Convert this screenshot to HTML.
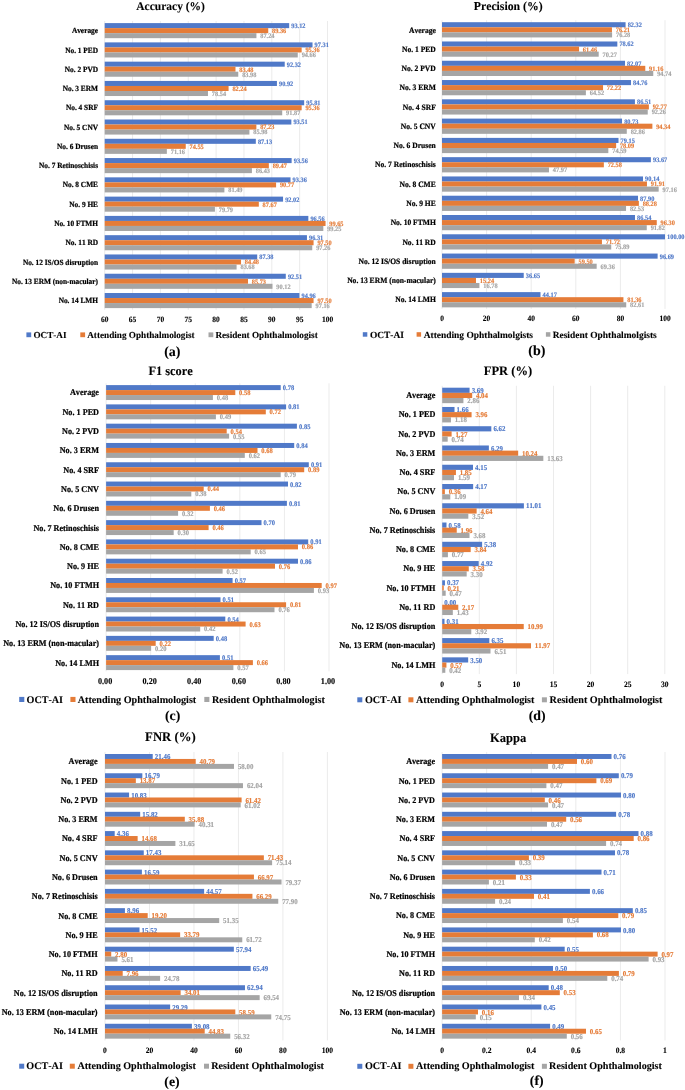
<!DOCTYPE html>
<html><head><meta charset="utf-8"><style>
html,body{margin:0;padding:0;background:#fff;}
body{width:685px;height:1090px;overflow:hidden;}
svg{display:block;filter:blur(0.3px);text-rendering:geometricPrecision;font-kerning:none;font-family:"Liberation Serif",serif;font-weight:bold;}
.gr{stroke:#E4E4E4;stroke-width:0.75;}
.c{text-anchor:end;fill:#000;stroke:#000;stroke-width:0.2px;}
.t{text-anchor:middle;fill:#000;stroke:#000;stroke-width:0.1px;}
.l{fill:#000;stroke:#000;stroke-width:0.1px;}
.v{font-weight:bold;stroke-width:0.15px;}
</style></head><body>
<svg width="685" height="1090" viewBox="0 0 685 1090">
<rect width="685" height="1090" fill="#fff"/>
<line x1="104.7" y1="21" x2="104.7" y2="309.8" class="gr"/>
<line x1="132.55" y1="21" x2="132.55" y2="309.8" class="gr"/>
<line x1="160.4" y1="21" x2="160.4" y2="309.8" class="gr"/>
<line x1="188.25" y1="21" x2="188.25" y2="309.8" class="gr"/>
<line x1="216.1" y1="21" x2="216.1" y2="309.8" class="gr"/>
<line x1="243.95" y1="21" x2="243.95" y2="309.8" class="gr"/>
<line x1="271.8" y1="21" x2="271.8" y2="309.8" class="gr"/>
<line x1="299.65" y1="21" x2="299.65" y2="309.8" class="gr"/>
<line x1="327.5" y1="21" x2="327.5" y2="309.8" class="gr"/>
<rect x="104.7" y="23.1" width="184.478" height="5.04" fill="#5079C8"/>
<text transform="translate(291.278,28.01) scale(1,1.08)" class="v" style="font-size:6.3px" fill="#5079C8" stroke="#5079C8">93.12</text>
<rect x="104.7" y="28.12" width="163.535" height="5.04" fill="#E57C38"/>
<text transform="translate(272.035,33.03) scale(1,1.08)" class="v" style="font-size:6.3px" fill="#E57C38" stroke="#E57C38">89.36</text>
<rect x="104.7" y="33.14" width="151.727" height="5.04" fill="#A5A5A5"/>
<text transform="translate(260.327,38.05) scale(1,1.08)" class="v" style="font-size:6.3px" fill="#A5A5A5" stroke="#A5A5A5">87.24</text>
<text transform="translate(98,33.25) scale(1,1.08)" class="c" style="font-size:7.35px" >Average</text>
<rect x="104.7" y="42.38" width="207.817" height="5.04" fill="#5079C8"/>
<text transform="translate(314.617,47.29) scale(1,1.08)" class="v" style="font-size:6.3px" fill="#5079C8" stroke="#5079C8">97.31</text>
<rect x="104.7" y="47.4" width="196.955" height="5.04" fill="#E57C38"/>
<text transform="translate(305.455,52.31) scale(1,1.08)" class="v" style="font-size:6.3px" fill="#E57C38" stroke="#E57C38">95.36</text>
<rect x="104.7" y="52.42" width="193.056" height="5.04" fill="#A5A5A5"/>
<text transform="translate(301.656,57.33) scale(1,1.08)" class="v" style="font-size:6.3px" fill="#A5A5A5" stroke="#A5A5A5">94.66</text>
<text transform="translate(98,52.53) scale(1,1.08)" class="c" style="font-size:7.35px" >No. 1 PED</text>
<rect x="104.7" y="61.66" width="180.022" height="5.04" fill="#5079C8"/>
<text transform="translate(286.822,66.57) scale(1,1.08)" class="v" style="font-size:6.3px" fill="#5079C8" stroke="#5079C8">92.32</text>
<rect x="104.7" y="66.68" width="130.784" height="5.04" fill="#E57C38"/>
<text transform="translate(239.284,71.59) scale(1,1.08)" class="v" style="font-size:6.3px" fill="#E57C38" stroke="#E57C38">83.48</text>
<rect x="104.7" y="71.7" width="133.569" height="5.04" fill="#A5A5A5"/>
<text transform="translate(242.169,76.61) scale(1,1.08)" class="v" style="font-size:6.3px" fill="#A5A5A5" stroke="#A5A5A5">83.98</text>
<text transform="translate(98,71.81) scale(1,1.08)" class="c" style="font-size:7.35px" >No. 2 PVD</text>
<rect x="104.7" y="80.94" width="172.224" height="5.04" fill="#5079C8"/>
<text transform="translate(279.024,85.85) scale(1,1.08)" class="v" style="font-size:6.3px" fill="#5079C8" stroke="#5079C8">90.92</text>
<rect x="104.7" y="85.96" width="123.877" height="5.04" fill="#E57C38"/>
<text transform="translate(232.377,90.87) scale(1,1.08)" class="v" style="font-size:6.3px" fill="#E57C38" stroke="#E57C38">82.24</text>
<rect x="104.7" y="90.98" width="103.268" height="5.04" fill="#A5A5A5"/>
<text transform="translate(211.868,95.89) scale(1,1.08)" class="v" style="font-size:6.3px" fill="#A5A5A5" stroke="#A5A5A5">78.54</text>
<text transform="translate(98,91.09) scale(1,1.08)" class="c" style="font-size:7.35px" >No. 3 ERM</text>
<rect x="104.7" y="100.22" width="199.462" height="5.04" fill="#5079C8"/>
<text transform="translate(306.262,105.13) scale(1,1.08)" class="v" style="font-size:6.3px" fill="#5079C8" stroke="#5079C8">95.81</text>
<rect x="104.7" y="105.24" width="196.955" height="5.04" fill="#E57C38"/>
<text transform="translate(305.455,110.15) scale(1,1.08)" class="v" style="font-size:6.3px" fill="#E57C38" stroke="#E57C38">95.36</text>
<rect x="104.7" y="110.26" width="177.516" height="5.04" fill="#A5A5A5"/>
<text transform="translate(286.116,115.17) scale(1,1.08)" class="v" style="font-size:6.3px" fill="#A5A5A5" stroke="#A5A5A5">91.87</text>
<text transform="translate(98,110.37) scale(1,1.08)" class="c" style="font-size:7.35px" >No. 4 SRF</text>
<rect x="104.7" y="119.5" width="186.651" height="5.04" fill="#5079C8"/>
<text transform="translate(293.451,124.41) scale(1,1.08)" class="v" style="font-size:6.3px" fill="#5079C8" stroke="#5079C8">93.51</text>
<rect x="104.7" y="124.52" width="151.671" height="5.04" fill="#E57C38"/>
<text transform="translate(260.171,129.43) scale(1,1.08)" class="v" style="font-size:6.3px" fill="#E57C38" stroke="#E57C38">87.23</text>
<rect x="104.7" y="129.54" width="144.709" height="5.04" fill="#A5A5A5"/>
<text transform="translate(253.309,134.45) scale(1,1.08)" class="v" style="font-size:6.3px" fill="#A5A5A5" stroke="#A5A5A5">85.98</text>
<text transform="translate(98,129.65) scale(1,1.08)" class="c" style="font-size:7.35px" >No. 5 CNV</text>
<rect x="104.7" y="138.78" width="151.114" height="5.04" fill="#5079C8"/>
<text transform="translate(257.914,143.69) scale(1,1.08)" class="v" style="font-size:6.3px" fill="#5079C8" stroke="#5079C8">87.13</text>
<rect x="104.7" y="143.8" width="81.043" height="5.04" fill="#E57C38"/>
<text transform="translate(189.543,148.71) scale(1,1.08)" class="v" style="font-size:6.3px" fill="#E57C38" stroke="#E57C38">74.55</text>
<rect x="104.7" y="148.82" width="62.161" height="5.04" fill="#A5A5A5"/>
<text transform="translate(170.761,153.73) scale(1,1.08)" class="v" style="font-size:6.3px" fill="#A5A5A5" stroke="#A5A5A5">71.16</text>
<text transform="translate(98,148.93) scale(1,1.08)" class="c" style="font-size:7.35px" >No. 6 Drusen</text>
<rect x="104.7" y="158.06" width="186.929" height="5.04" fill="#5079C8"/>
<text transform="translate(293.729,162.97) scale(1,1.08)" class="v" style="font-size:6.3px" fill="#5079C8" stroke="#5079C8">93.56</text>
<rect x="104.7" y="163.08" width="164.148" height="5.04" fill="#E57C38"/>
<text transform="translate(272.648,167.99) scale(1,1.08)" class="v" style="font-size:6.3px" fill="#E57C38" stroke="#E57C38">89.47</text>
<rect x="104.7" y="168.1" width="147.215" height="5.04" fill="#A5A5A5"/>
<text transform="translate(255.815,173.01) scale(1,1.08)" class="v" style="font-size:6.3px" fill="#A5A5A5" stroke="#A5A5A5">86.43</text>
<text transform="translate(98,168.21) scale(1,1.08)" class="c" style="font-size:7.35px" >No. 7 Retinoschisis</text>
<rect x="104.7" y="177.34" width="185.815" height="5.04" fill="#5079C8"/>
<text transform="translate(292.615,182.25) scale(1,1.08)" class="v" style="font-size:6.3px" fill="#5079C8" stroke="#5079C8">93.36</text>
<rect x="104.7" y="182.36" width="171.389" height="5.04" fill="#E57C38"/>
<text transform="translate(279.889,187.27) scale(1,1.08)" class="v" style="font-size:6.3px" fill="#E57C38" stroke="#E57C38">90.77</text>
<rect x="104.7" y="187.38" width="119.699" height="5.04" fill="#A5A5A5"/>
<text transform="translate(228.299,192.29) scale(1,1.08)" class="v" style="font-size:6.3px" fill="#A5A5A5" stroke="#A5A5A5">81.49</text>
<text transform="translate(98,187.49) scale(1,1.08)" class="c" style="font-size:7.35px" >No. 8 CME</text>
<rect x="104.7" y="196.62" width="178.351" height="5.04" fill="#5079C8"/>
<text transform="translate(285.151,201.53) scale(1,1.08)" class="v" style="font-size:6.3px" fill="#5079C8" stroke="#5079C8">92.02</text>
<rect x="104.7" y="201.64" width="154.122" height="5.04" fill="#E57C38"/>
<text transform="translate(262.622,206.55) scale(1,1.08)" class="v" style="font-size:6.3px" fill="#E57C38" stroke="#E57C38">87.67</text>
<rect x="104.7" y="206.66" width="110.23" height="5.04" fill="#A5A5A5"/>
<text transform="translate(218.83,211.57) scale(1,1.08)" class="v" style="font-size:6.3px" fill="#A5A5A5" stroke="#A5A5A5">79.79</text>
<text transform="translate(98,206.77) scale(1,1.08)" class="c" style="font-size:7.35px" >No. 9 HE</text>
<rect x="104.7" y="215.9" width="203.639" height="5.04" fill="#5079C8"/>
<text transform="translate(310.439,220.81) scale(1,1.08)" class="v" style="font-size:6.3px" fill="#5079C8" stroke="#5079C8">96.56</text>
<rect x="104.7" y="220.92" width="220.851" height="5.04" fill="#E57C38"/>
<text transform="translate(329.351,225.83) scale(1,1.08)" class="v" style="font-size:6.3px" fill="#E57C38" stroke="#E57C38">99.65</text>
<rect x="104.7" y="225.94" width="218.623" height="5.04" fill="#A5A5A5"/>
<text transform="translate(327.222,230.85) scale(1,1.08)" class="v" style="font-size:6.3px" fill="#A5A5A5" stroke="#A5A5A5">99.25</text>
<text transform="translate(98,226.05) scale(1,1.08)" class="c" style="font-size:7.35px" >No. 10 FTMH</text>
<rect x="104.7" y="235.18" width="202.247" height="5.04" fill="#5079C8"/>
<text transform="translate(309.047,240.09) scale(1,1.08)" class="v" style="font-size:6.3px" fill="#5079C8" stroke="#5079C8">96.31</text>
<rect x="104.7" y="240.2" width="208.875" height="5.04" fill="#E57C38"/>
<text transform="translate(317.375,245.11) scale(1,1.08)" class="v" style="font-size:6.3px" fill="#E57C38" stroke="#E57C38">97.50</text>
<rect x="104.7" y="245.22" width="207.538" height="5.04" fill="#A5A5A5"/>
<text transform="translate(316.138,250.13) scale(1,1.08)" class="v" style="font-size:6.3px" fill="#A5A5A5" stroke="#A5A5A5">97.26</text>
<text transform="translate(98,245.33) scale(1,1.08)" class="c" style="font-size:7.35px" >No. 11 RD</text>
<rect x="104.7" y="254.46" width="152.507" height="5.04" fill="#5079C8"/>
<text transform="translate(259.307,259.37) scale(1,1.08)" class="v" style="font-size:6.3px" fill="#5079C8" stroke="#5079C8">87.38</text>
<rect x="104.7" y="259.48" width="136.354" height="5.04" fill="#E57C38"/>
<text transform="translate(244.854,264.39) scale(1,1.08)" class="v" style="font-size:6.3px" fill="#E57C38" stroke="#E57C38">84.48</text>
<rect x="104.7" y="264.5" width="131.898" height="5.04" fill="#A5A5A5"/>
<text transform="translate(240.498,269.41) scale(1,1.08)" class="v" style="font-size:6.3px" fill="#A5A5A5" stroke="#A5A5A5">83.68</text>
<text transform="translate(98,264.61) scale(1,1.08)" class="c" style="font-size:7.35px" >No. 12 IS/OS disruption</text>
<rect x="104.7" y="273.74" width="181.081" height="5.04" fill="#5079C8"/>
<text transform="translate(287.881,278.65) scale(1,1.08)" class="v" style="font-size:6.3px" fill="#5079C8" stroke="#5079C8">92.51</text>
<rect x="104.7" y="278.76" width="143.316" height="5.04" fill="#E57C38"/>
<text transform="translate(251.816,283.67) scale(1,1.08)" class="v" style="font-size:6.3px" fill="#E57C38" stroke="#E57C38">85.73</text>
<rect x="104.7" y="283.78" width="167.768" height="5.04" fill="#A5A5A5"/>
<text transform="translate(276.368,288.69) scale(1,1.08)" class="v" style="font-size:6.3px" fill="#A5A5A5" stroke="#A5A5A5">90.12</text>
<text transform="translate(98,283.89) scale(1,1.08)" class="c" style="font-size:7.35px" >No. 13 ERM (non-macular)</text>
<rect x="104.7" y="293.02" width="194.727" height="5.04" fill="#5079C8"/>
<text transform="translate(301.527,297.93) scale(1,1.08)" class="v" style="font-size:6.3px" fill="#5079C8" stroke="#5079C8">94.96</text>
<rect x="104.7" y="298.04" width="208.875" height="5.04" fill="#E57C38"/>
<text transform="translate(317.375,302.95) scale(1,1.08)" class="v" style="font-size:6.3px" fill="#E57C38" stroke="#E57C38">97.50</text>
<rect x="104.7" y="303.06" width="206.981" height="5.04" fill="#A5A5A5"/>
<text transform="translate(315.581,307.97) scale(1,1.08)" class="v" style="font-size:6.3px" fill="#A5A5A5" stroke="#A5A5A5">97.16</text>
<text transform="translate(98,303.17) scale(1,1.08)" class="c" style="font-size:7.35px" >No. 14 LMH</text>
<text transform="translate(104.7,321.838) scale(1,1.08)" class="t" style="font-size:7.5px" >60</text>
<text transform="translate(132.55,321.838) scale(1,1.08)" class="t" style="font-size:7.5px" >65</text>
<text transform="translate(160.4,321.838) scale(1,1.08)" class="t" style="font-size:7.5px" >70</text>
<text transform="translate(188.25,321.838) scale(1,1.08)" class="t" style="font-size:7.5px" >75</text>
<text transform="translate(216.1,321.838) scale(1,1.08)" class="t" style="font-size:7.5px" >80</text>
<text transform="translate(243.95,321.838) scale(1,1.08)" class="t" style="font-size:7.5px" >85</text>
<text transform="translate(271.8,321.838) scale(1,1.08)" class="t" style="font-size:7.5px" >90</text>
<text transform="translate(299.65,321.838) scale(1,1.08)" class="t" style="font-size:7.5px" >95</text>
<text transform="translate(327.5,321.838) scale(1,1.08)" class="t" style="font-size:7.5px" >100</text>
<text transform="translate(170.6,10.4) scale(1,1.03)" class="t" style="font-size:11.5px" >Accuracy (%)</text>
<rect x="26.4" y="332.4" width="4.8" height="4.8" fill="#5079C8"/>
<text x="33.4" y="337.8" class="l" style="font-size:9.2px" >OCT-AI</text>
<rect x="80.3" y="332.4" width="4.8" height="4.8" fill="#E57C38"/>
<text x="87.2" y="337.8" class="l" style="font-size:9.2px" >Attending Ophthalmologist</text>
<rect x="208.5" y="332.4" width="4.8" height="4.8" fill="#A5A5A5"/>
<text x="215.4" y="337.8" class="l" style="font-size:9.2px" >Resident Ophthalmologist</text>
<text x="172.3" y="355.5" class="t" style="font-size:14px" >(a)</text>
<line x1="442" y1="20.2" x2="442" y2="308.9" class="gr"/>
<line x1="486.6" y1="20.2" x2="486.6" y2="308.9" class="gr"/>
<line x1="531.2" y1="20.2" x2="531.2" y2="308.9" class="gr"/>
<line x1="575.8" y1="20.2" x2="575.8" y2="308.9" class="gr"/>
<line x1="620.4" y1="20.2" x2="620.4" y2="308.9" class="gr"/>
<line x1="665" y1="20.2" x2="665" y2="308.9" class="gr"/>
<rect x="442" y="22.2" width="183.574" height="5.09" fill="#5079C8"/>
<text transform="translate(627.674,27.153) scale(1,1.08)" class="v" style="font-size:6.35px" fill="#5079C8" stroke="#5079C8">82.32</text>
<rect x="442" y="27.27" width="169.948" height="5.09" fill="#E57C38"/>
<text transform="translate(615.748,32.223) scale(1,1.08)" class="v" style="font-size:6.35px" fill="#E57C38" stroke="#E57C38">76.21</text>
<rect x="442" y="32.34" width="170.104" height="5.09" fill="#A5A5A5"/>
<text transform="translate(616.004,37.293) scale(1,1.08)" class="v" style="font-size:6.35px" fill="#A5A5A5" stroke="#A5A5A5">76.28</text>
<text transform="translate(435.8,32.503) scale(1,1.08)" class="c" style="font-size:7.57px" >Average</text>
<rect x="442" y="41.48" width="175.323" height="5.09" fill="#5079C8"/>
<text transform="translate(619.423,46.433) scale(1,1.08)" class="v" style="font-size:6.35px" fill="#5079C8" stroke="#5079C8">78.62</text>
<rect x="442" y="46.55" width="137.056" height="5.09" fill="#E57C38"/>
<text transform="translate(582.856,51.503) scale(1,1.08)" class="v" style="font-size:6.35px" fill="#E57C38" stroke="#E57C38">61.46</text>
<rect x="442" y="51.62" width="156.702" height="5.09" fill="#A5A5A5"/>
<text transform="translate(602.602,56.573) scale(1,1.08)" class="v" style="font-size:6.35px" fill="#A5A5A5" stroke="#A5A5A5">70.27</text>
<text transform="translate(435.8,51.783) scale(1,1.08)" class="c" style="font-size:7.57px" >No. 1 PED</text>
<rect x="442" y="60.76" width="183.016" height="5.09" fill="#5079C8"/>
<text transform="translate(627.116,65.713) scale(1,1.08)" class="v" style="font-size:6.35px" fill="#5079C8" stroke="#5079C8">82.07</text>
<rect x="442" y="65.83" width="203.287" height="5.09" fill="#E57C38"/>
<text transform="translate(649.087,70.783) scale(1,1.08)" class="v" style="font-size:6.35px" fill="#E57C38" stroke="#E57C38">91.16</text>
<rect x="442" y="70.9" width="211.27" height="5.09" fill="#A5A5A5"/>
<text transform="translate(657.17,75.853) scale(1,1.08)" class="v" style="font-size:6.35px" fill="#A5A5A5" stroke="#A5A5A5">94.74</text>
<text transform="translate(435.8,71.063) scale(1,1.08)" class="c" style="font-size:7.57px" >No. 2 PVD</text>
<rect x="442" y="80.04" width="189.015" height="5.09" fill="#5079C8"/>
<text transform="translate(633.115,84.993) scale(1,1.08)" class="v" style="font-size:6.35px" fill="#5079C8" stroke="#5079C8">84.76</text>
<rect x="442" y="85.11" width="161.051" height="5.09" fill="#E57C38"/>
<text transform="translate(606.851,90.063) scale(1,1.08)" class="v" style="font-size:6.35px" fill="#E57C38" stroke="#E57C38">72.22</text>
<rect x="442" y="90.18" width="143.88" height="5.09" fill="#A5A5A5"/>
<text transform="translate(589.78,95.133) scale(1,1.08)" class="v" style="font-size:6.35px" fill="#A5A5A5" stroke="#A5A5A5">64.52</text>
<text transform="translate(435.8,90.343) scale(1,1.08)" class="c" style="font-size:7.57px" >No. 3 ERM</text>
<rect x="442" y="99.32" width="192.917" height="5.09" fill="#5079C8"/>
<text transform="translate(637.017,104.273) scale(1,1.08)" class="v" style="font-size:6.35px" fill="#5079C8" stroke="#5079C8">86.51</text>
<rect x="442" y="104.39" width="206.877" height="5.09" fill="#E57C38"/>
<text transform="translate(652.677,109.343) scale(1,1.08)" class="v" style="font-size:6.35px" fill="#E57C38" stroke="#E57C38">92.77</text>
<rect x="442" y="109.46" width="205.74" height="5.09" fill="#A5A5A5"/>
<text transform="translate(651.64,114.413) scale(1,1.08)" class="v" style="font-size:6.35px" fill="#A5A5A5" stroke="#A5A5A5">92.26</text>
<text transform="translate(435.8,109.623) scale(1,1.08)" class="c" style="font-size:7.57px" >No. 4 SRF</text>
<rect x="442" y="118.6" width="180.028" height="5.09" fill="#5079C8"/>
<text transform="translate(624.128,123.553) scale(1,1.08)" class="v" style="font-size:6.35px" fill="#5079C8" stroke="#5079C8">80.73</text>
<rect x="442" y="123.67" width="210.378" height="5.09" fill="#E57C38"/>
<text transform="translate(656.178,128.623) scale(1,1.08)" class="v" style="font-size:6.35px" fill="#E57C38" stroke="#E57C38">94.34</text>
<rect x="442" y="128.74" width="184.778" height="5.09" fill="#A5A5A5"/>
<text transform="translate(630.678,133.693) scale(1,1.08)" class="v" style="font-size:6.35px" fill="#A5A5A5" stroke="#A5A5A5">82.86</text>
<text transform="translate(435.8,128.903) scale(1,1.08)" class="c" style="font-size:7.57px" >No. 5 CNV</text>
<rect x="442" y="137.88" width="176.505" height="5.09" fill="#5079C8"/>
<text transform="translate(620.605,142.833) scale(1,1.08)" class="v" style="font-size:6.35px" fill="#5079C8" stroke="#5079C8">79.15</text>
<rect x="442" y="142.95" width="174.141" height="5.09" fill="#E57C38"/>
<text transform="translate(619.941,147.903) scale(1,1.08)" class="v" style="font-size:6.35px" fill="#E57C38" stroke="#E57C38">78.09</text>
<rect x="442" y="148.02" width="166.336" height="5.09" fill="#A5A5A5"/>
<text transform="translate(612.236,152.973) scale(1,1.08)" class="v" style="font-size:6.35px" fill="#A5A5A5" stroke="#A5A5A5">74.59</text>
<text transform="translate(435.8,148.183) scale(1,1.08)" class="c" style="font-size:7.57px" >No. 6 Drusen</text>
<rect x="442" y="157.16" width="208.884" height="5.09" fill="#5079C8"/>
<text transform="translate(652.984,162.113) scale(1,1.08)" class="v" style="font-size:6.35px" fill="#5079C8" stroke="#5079C8">93.67</text>
<rect x="442" y="162.23" width="161.853" height="5.09" fill="#E57C38"/>
<text transform="translate(607.653,167.183) scale(1,1.08)" class="v" style="font-size:6.35px" fill="#E57C38" stroke="#E57C38">72.58</text>
<rect x="442" y="167.3" width="106.973" height="5.09" fill="#A5A5A5"/>
<text transform="translate(552.873,172.253) scale(1,1.08)" class="v" style="font-size:6.35px" fill="#A5A5A5" stroke="#A5A5A5">47.97</text>
<text transform="translate(435.8,167.463) scale(1,1.08)" class="c" style="font-size:7.57px" >No. 7 Retinoschisis</text>
<rect x="442" y="176.44" width="201.012" height="5.09" fill="#5079C8"/>
<text transform="translate(645.112,181.393) scale(1,1.08)" class="v" style="font-size:6.35px" fill="#5079C8" stroke="#5079C8">90.14</text>
<rect x="442" y="181.51" width="204.959" height="5.09" fill="#E57C38"/>
<text transform="translate(650.759,186.463) scale(1,1.08)" class="v" style="font-size:6.35px" fill="#E57C38" stroke="#E57C38">91.91</text>
<rect x="442" y="186.58" width="216.667" height="5.09" fill="#A5A5A5"/>
<text transform="translate(662.567,191.533) scale(1,1.08)" class="v" style="font-size:6.35px" fill="#A5A5A5" stroke="#A5A5A5">97.16</text>
<text transform="translate(435.8,186.743) scale(1,1.08)" class="c" style="font-size:7.57px" >No. 8 CME</text>
<rect x="442" y="195.72" width="196.017" height="5.09" fill="#5079C8"/>
<text transform="translate(640.117,200.673) scale(1,1.08)" class="v" style="font-size:6.35px" fill="#5079C8" stroke="#5079C8">87.90</text>
<rect x="442" y="200.79" width="196.864" height="5.09" fill="#E57C38"/>
<text transform="translate(642.664,205.743) scale(1,1.08)" class="v" style="font-size:6.35px" fill="#E57C38" stroke="#E57C38">88.28</text>
<rect x="442" y="205.86" width="184.042" height="5.09" fill="#A5A5A5"/>
<text transform="translate(629.942,210.813) scale(1,1.08)" class="v" style="font-size:6.35px" fill="#A5A5A5" stroke="#A5A5A5">82.53</text>
<text transform="translate(435.8,206.023) scale(1,1.08)" class="c" style="font-size:7.57px" >No. 9 HE</text>
<rect x="442" y="215" width="192.984" height="5.09" fill="#5079C8"/>
<text transform="translate(637.084,219.953) scale(1,1.08)" class="v" style="font-size:6.35px" fill="#5079C8" stroke="#5079C8">86.54</text>
<rect x="442" y="220.07" width="214.749" height="5.09" fill="#E57C38"/>
<text transform="translate(660.549,225.023) scale(1,1.08)" class="v" style="font-size:6.35px" fill="#E57C38" stroke="#E57C38">96.30</text>
<rect x="442" y="225.14" width="204.759" height="5.09" fill="#A5A5A5"/>
<text transform="translate(650.659,230.093) scale(1,1.08)" class="v" style="font-size:6.35px" fill="#A5A5A5" stroke="#A5A5A5">91.82</text>
<text transform="translate(435.8,225.303) scale(1,1.08)" class="c" style="font-size:7.57px" >No. 10 FTMH</text>
<rect x="442" y="234.28" width="223" height="5.09" fill="#5079C8"/>
<text transform="translate(667.1,239.233) scale(1,1.08)" class="v" style="font-size:6.35px" fill="#5079C8" stroke="#5079C8">100.00</text>
<rect x="442" y="239.35" width="159.936" height="5.09" fill="#E57C38"/>
<text transform="translate(605.736,244.303) scale(1,1.08)" class="v" style="font-size:6.35px" fill="#E57C38" stroke="#E57C38">71.72</text>
<rect x="442" y="244.42" width="169.235" height="5.09" fill="#A5A5A5"/>
<text transform="translate(615.135,249.373) scale(1,1.08)" class="v" style="font-size:6.35px" fill="#A5A5A5" stroke="#A5A5A5">75.89</text>
<text transform="translate(435.8,244.583) scale(1,1.08)" class="c" style="font-size:7.57px" >No. 11 RD</text>
<rect x="442" y="253.56" width="215.619" height="5.09" fill="#5079C8"/>
<text transform="translate(659.719,258.513) scale(1,1.08)" class="v" style="font-size:6.35px" fill="#5079C8" stroke="#5079C8">96.69</text>
<rect x="442" y="258.63" width="132.685" height="5.09" fill="#E57C38"/>
<text transform="translate(578.485,263.583) scale(1,1.08)" class="v" style="font-size:6.35px" fill="#E57C38" stroke="#E57C38">59.50</text>
<rect x="442" y="263.7" width="154.673" height="5.09" fill="#A5A5A5"/>
<text transform="translate(600.573,268.653) scale(1,1.08)" class="v" style="font-size:6.35px" fill="#A5A5A5" stroke="#A5A5A5">69.36</text>
<text transform="translate(435.8,263.863) scale(1,1.08)" class="c" style="font-size:7.57px" >No. 12 IS/OS disruption</text>
<rect x="442" y="272.84" width="81.73" height="5.09" fill="#5079C8"/>
<text transform="translate(525.83,277.793) scale(1,1.08)" class="v" style="font-size:6.35px" fill="#5079C8" stroke="#5079C8">36.65</text>
<rect x="442" y="277.91" width="33.985" height="5.09" fill="#E57C38"/>
<text transform="translate(479.785,282.863) scale(1,1.08)" class="v" style="font-size:6.35px" fill="#E57C38" stroke="#E57C38">15.24</text>
<rect x="442" y="282.98" width="37.419" height="5.09" fill="#A5A5A5"/>
<text transform="translate(483.319,287.933) scale(1,1.08)" class="v" style="font-size:6.35px" fill="#A5A5A5" stroke="#A5A5A5">16.78</text>
<text transform="translate(435.8,283.143) scale(1,1.08)" class="c" style="font-size:7.57px" >No. 13 ERM (non-macular)</text>
<rect x="442" y="292.12" width="98.499" height="5.09" fill="#5079C8"/>
<text transform="translate(542.599,297.073) scale(1,1.08)" class="v" style="font-size:6.35px" fill="#5079C8" stroke="#5079C8">44.17</text>
<rect x="442" y="297.19" width="181.433" height="5.09" fill="#E57C38"/>
<text transform="translate(627.233,302.143) scale(1,1.08)" class="v" style="font-size:6.35px" fill="#E57C38" stroke="#E57C38">81.36</text>
<rect x="442" y="302.26" width="184.22" height="5.09" fill="#A5A5A5"/>
<text transform="translate(630.12,307.213) scale(1,1.08)" class="v" style="font-size:6.35px" fill="#A5A5A5" stroke="#A5A5A5">82.61</text>
<text transform="translate(435.8,302.423) scale(1,1.08)" class="c" style="font-size:7.57px" >No. 14 LMH</text>
<text transform="translate(442,321.038) scale(1,1.08)" class="t" style="font-size:7.5px" >0</text>
<text transform="translate(486.6,321.038) scale(1,1.08)" class="t" style="font-size:7.5px" >20</text>
<text transform="translate(531.2,321.038) scale(1,1.08)" class="t" style="font-size:7.5px" >40</text>
<text transform="translate(575.8,321.038) scale(1,1.08)" class="t" style="font-size:7.5px" >60</text>
<text transform="translate(620.4,321.038) scale(1,1.08)" class="t" style="font-size:7.5px" >80</text>
<text transform="translate(665,321.038) scale(1,1.08)" class="t" style="font-size:7.5px" >100</text>
<text transform="translate(508.2,9.7) scale(1,1.03)" class="t" style="font-size:11.75px" >Precision (%)</text>
<rect x="362.8" y="332.2" width="4.5" height="4.5" fill="#5079C8"/>
<text x="369.9" y="337.8" class="l" style="font-size:9.45px" >OCT-AI</text>
<rect x="416.6" y="332.2" width="4.5" height="4.5" fill="#E57C38"/>
<text x="423.7" y="337.8" class="l" style="font-size:9.45px" >Attending Ophthalmolgists</text>
<rect x="545.9" y="332.2" width="4.5" height="4.5" fill="#A5A5A5"/>
<text x="552.7" y="337.8" class="l" style="font-size:9.45px" >Resident Ophthalmolgists</text>
<text x="536.9" y="354.8" class="t" style="font-size:14px" >(b)</text>
<line x1="106.1" y1="383.3" x2="106.1" y2="671.3" class="gr"/>
<line x1="150.68" y1="383.3" x2="150.68" y2="671.3" class="gr"/>
<line x1="195.26" y1="383.3" x2="195.26" y2="671.3" class="gr"/>
<line x1="239.84" y1="383.3" x2="239.84" y2="671.3" class="gr"/>
<line x1="284.42" y1="383.3" x2="284.42" y2="671.3" class="gr"/>
<line x1="329" y1="383.3" x2="329" y2="671.3" class="gr"/>
<rect x="106.1" y="385.1" width="174.6" height="4.99" fill="#5079C8"/>
<text transform="translate(282.8,390.058) scale(1,1.08)" class="v" style="font-size:6.5px" fill="#5079C8" stroke="#5079C8">0.78</text>
<rect x="106.1" y="390.07" width="129.2" height="4.99" fill="#E57C38"/>
<text transform="translate(239.1,395.028) scale(1,1.08)" class="v" style="font-size:6.5px" fill="#E57C38" stroke="#E57C38">0.58</text>
<rect x="106.1" y="395.04" width="106.8" height="4.99" fill="#A5A5A5"/>
<text transform="translate(216.8,399.998) scale(1,1.08)" class="v" style="font-size:6.5px" fill="#A5A5A5" stroke="#A5A5A5">0.48</text>
<text transform="translate(99,395.47) scale(1,1.08)" class="c" style="font-size:8.18px" >Average</text>
<rect x="106.1" y="404.39" width="180" height="4.99" fill="#5079C8"/>
<text transform="translate(288.2,409.348) scale(1,1.08)" class="v" style="font-size:6.5px" fill="#5079C8" stroke="#5079C8">0.81</text>
<rect x="106.1" y="409.36" width="159.7" height="4.99" fill="#E57C38"/>
<text transform="translate(269.6,414.318) scale(1,1.08)" class="v" style="font-size:6.5px" fill="#E57C38" stroke="#E57C38">0.72</text>
<rect x="106.1" y="414.33" width="109.8" height="4.99" fill="#A5A5A5"/>
<text transform="translate(219.8,419.288) scale(1,1.08)" class="v" style="font-size:6.5px" fill="#A5A5A5" stroke="#A5A5A5">0.49</text>
<text transform="translate(99,414.76) scale(1,1.08)" class="c" style="font-size:8.18px" >No. 1 PED</text>
<rect x="106.1" y="423.68" width="190.8" height="4.99" fill="#5079C8"/>
<text transform="translate(299,428.638) scale(1,1.08)" class="v" style="font-size:6.5px" fill="#5079C8" stroke="#5079C8">0.85</text>
<rect x="106.1" y="428.65" width="120.6" height="4.99" fill="#E57C38"/>
<text transform="translate(230.5,433.608) scale(1,1.08)" class="v" style="font-size:6.5px" fill="#E57C38" stroke="#E57C38">0.54</text>
<rect x="106.1" y="433.62" width="123" height="4.99" fill="#A5A5A5"/>
<text transform="translate(233,438.578) scale(1,1.08)" class="v" style="font-size:6.5px" fill="#A5A5A5" stroke="#A5A5A5">0.55</text>
<text transform="translate(99,434.05) scale(1,1.08)" class="c" style="font-size:8.18px" >No. 2 PVD</text>
<rect x="106.1" y="442.97" width="188.1" height="4.99" fill="#5079C8"/>
<text transform="translate(296.3,447.928) scale(1,1.08)" class="v" style="font-size:6.5px" fill="#5079C8" stroke="#5079C8">0.84</text>
<rect x="106.1" y="447.94" width="151.4" height="4.99" fill="#E57C38"/>
<text transform="translate(261.3,452.898) scale(1,1.08)" class="v" style="font-size:6.5px" fill="#E57C38" stroke="#E57C38">0.68</text>
<rect x="106.1" y="452.91" width="138.7" height="4.99" fill="#A5A5A5"/>
<text transform="translate(248.7,457.868) scale(1,1.08)" class="v" style="font-size:6.5px" fill="#A5A5A5" stroke="#A5A5A5">0.62</text>
<text transform="translate(99,453.34) scale(1,1.08)" class="c" style="font-size:8.18px" >No. 3 ERM</text>
<rect x="106.1" y="462.26" width="202.7" height="4.99" fill="#5079C8"/>
<text transform="translate(310.9,467.218) scale(1,1.08)" class="v" style="font-size:6.5px" fill="#5079C8" stroke="#5079C8">0.91</text>
<rect x="106.1" y="467.23" width="198.1" height="4.99" fill="#E57C38"/>
<text transform="translate(308,472.188) scale(1,1.08)" class="v" style="font-size:6.5px" fill="#E57C38" stroke="#E57C38">0.89</text>
<rect x="106.1" y="472.2" width="174.6" height="4.99" fill="#A5A5A5"/>
<text transform="translate(284.6,477.158) scale(1,1.08)" class="v" style="font-size:6.5px" fill="#A5A5A5" stroke="#A5A5A5">0.79</text>
<text transform="translate(99,472.63) scale(1,1.08)" class="c" style="font-size:8.18px" >No. 4 SRF</text>
<rect x="106.1" y="481.55" width="181.9" height="4.99" fill="#5079C8"/>
<text transform="translate(290.1,486.508) scale(1,1.08)" class="v" style="font-size:6.5px" fill="#5079C8" stroke="#5079C8">0.82</text>
<rect x="106.1" y="486.52" width="97.6" height="4.99" fill="#E57C38"/>
<text transform="translate(207.5,491.478) scale(1,1.08)" class="v" style="font-size:6.5px" fill="#E57C38" stroke="#E57C38">0.44</text>
<rect x="106.1" y="491.49" width="85.2" height="4.99" fill="#A5A5A5"/>
<text transform="translate(195.2,496.448) scale(1,1.08)" class="v" style="font-size:6.5px" fill="#A5A5A5" stroke="#A5A5A5">0.38</text>
<text transform="translate(99,491.92) scale(1,1.08)" class="c" style="font-size:8.18px" >No. 5 CNV</text>
<rect x="106.1" y="500.84" width="180.8" height="4.99" fill="#5079C8"/>
<text transform="translate(289,505.798) scale(1,1.08)" class="v" style="font-size:6.5px" fill="#5079C8" stroke="#5079C8">0.81</text>
<rect x="106.1" y="505.81" width="103.8" height="4.99" fill="#E57C38"/>
<text transform="translate(213.7,510.768) scale(1,1.08)" class="v" style="font-size:6.5px" fill="#E57C38" stroke="#E57C38">0.46</text>
<rect x="106.1" y="510.78" width="72" height="4.99" fill="#A5A5A5"/>
<text transform="translate(182,515.738) scale(1,1.08)" class="v" style="font-size:6.5px" fill="#A5A5A5" stroke="#A5A5A5">0.32</text>
<text transform="translate(99,511.21) scale(1,1.08)" class="c" style="font-size:8.18px" >No. 6 Drusen</text>
<rect x="106.1" y="520.13" width="155.4" height="4.99" fill="#5079C8"/>
<text transform="translate(263.6,525.088) scale(1,1.08)" class="v" style="font-size:6.5px" fill="#5079C8" stroke="#5079C8">0.70</text>
<rect x="106.1" y="525.1" width="102.5" height="4.99" fill="#E57C38"/>
<text transform="translate(212.4,530.058) scale(1,1.08)" class="v" style="font-size:6.5px" fill="#E57C38" stroke="#E57C38">0.46</text>
<rect x="106.1" y="530.07" width="67.6" height="4.99" fill="#A5A5A5"/>
<text transform="translate(177.6,535.028) scale(1,1.08)" class="v" style="font-size:6.5px" fill="#A5A5A5" stroke="#A5A5A5">0.30</text>
<text transform="translate(99,530.5) scale(1,1.08)" class="c" style="font-size:8.18px" >No. 7 Retinoschisis</text>
<rect x="106.1" y="539.42" width="202.1" height="4.99" fill="#5079C8"/>
<text transform="translate(310.3,544.378) scale(1,1.08)" class="v" style="font-size:6.5px" fill="#5079C8" stroke="#5079C8">0.91</text>
<rect x="106.1" y="544.39" width="191.9" height="4.99" fill="#E57C38"/>
<text transform="translate(301.8,549.348) scale(1,1.08)" class="v" style="font-size:6.5px" fill="#E57C38" stroke="#E57C38">0.86</text>
<rect x="106.1" y="549.36" width="144.6" height="4.99" fill="#A5A5A5"/>
<text transform="translate(254.6,554.318) scale(1,1.08)" class="v" style="font-size:6.5px" fill="#A5A5A5" stroke="#A5A5A5">0.65</text>
<text transform="translate(99,549.79) scale(1,1.08)" class="c" style="font-size:8.18px" >No. 8 CME</text>
<rect x="106.1" y="558.71" width="191.9" height="4.99" fill="#5079C8"/>
<text transform="translate(300.1,563.668) scale(1,1.08)" class="v" style="font-size:6.5px" fill="#5079C8" stroke="#5079C8">0.86</text>
<rect x="106.1" y="563.68" width="168.9" height="4.99" fill="#E57C38"/>
<text transform="translate(278.8,568.638) scale(1,1.08)" class="v" style="font-size:6.5px" fill="#E57C38" stroke="#E57C38">0.76</text>
<rect x="106.1" y="568.65" width="116.5" height="4.99" fill="#A5A5A5"/>
<text transform="translate(226.5,573.608) scale(1,1.08)" class="v" style="font-size:6.5px" fill="#A5A5A5" stroke="#A5A5A5">0.52</text>
<text transform="translate(99,569.08) scale(1,1.08)" class="c" style="font-size:8.18px" >No. 9 HE</text>
<rect x="106.1" y="578" width="126.5" height="4.99" fill="#5079C8"/>
<text transform="translate(234.7,582.958) scale(1,1.08)" class="v" style="font-size:6.5px" fill="#5079C8" stroke="#5079C8">0.57</text>
<rect x="106.1" y="582.97" width="215.6" height="4.99" fill="#E57C38"/>
<text transform="translate(325.5,587.928) scale(1,1.08)" class="v" style="font-size:6.5px" fill="#E57C38" stroke="#E57C38">0.97</text>
<rect x="106.1" y="587.94" width="207.8" height="4.99" fill="#A5A5A5"/>
<text transform="translate(317.8,592.898) scale(1,1.08)" class="v" style="font-size:6.5px" fill="#A5A5A5" stroke="#A5A5A5">0.93</text>
<text transform="translate(99,588.37) scale(1,1.08)" class="c" style="font-size:8.18px" >No. 10 FTMH</text>
<rect x="106.1" y="597.29" width="114.4" height="4.99" fill="#5079C8"/>
<text transform="translate(222.6,602.248) scale(1,1.08)" class="v" style="font-size:6.5px" fill="#5079C8" stroke="#5079C8">0.51</text>
<rect x="106.1" y="602.26" width="180" height="4.99" fill="#E57C38"/>
<text transform="translate(289.9,607.218) scale(1,1.08)" class="v" style="font-size:6.5px" fill="#E57C38" stroke="#E57C38">0.81</text>
<rect x="106.1" y="607.23" width="168.4" height="4.99" fill="#A5A5A5"/>
<text transform="translate(278.4,612.188) scale(1,1.08)" class="v" style="font-size:6.5px" fill="#A5A5A5" stroke="#A5A5A5">0.76</text>
<text transform="translate(99,607.66) scale(1,1.08)" class="c" style="font-size:8.18px" >No. 11 RD</text>
<rect x="106.1" y="616.58" width="119.2" height="4.99" fill="#5079C8"/>
<text transform="translate(227.4,621.538) scale(1,1.08)" class="v" style="font-size:6.5px" fill="#5079C8" stroke="#5079C8">0.54</text>
<rect x="106.1" y="621.55" width="139.5" height="4.99" fill="#E57C38"/>
<text transform="translate(249.4,626.508) scale(1,1.08)" class="v" style="font-size:6.5px" fill="#E57C38" stroke="#E57C38">0.63</text>
<rect x="106.1" y="626.52" width="94.1" height="4.99" fill="#A5A5A5"/>
<text transform="translate(204.1,631.478) scale(1,1.08)" class="v" style="font-size:6.5px" fill="#A5A5A5" stroke="#A5A5A5">0.42</text>
<text transform="translate(99,626.95) scale(1,1.08)" class="c" style="font-size:8.18px" >No. 12 IS/OS disruption</text>
<rect x="106.1" y="635.87" width="107.6" height="4.99" fill="#5079C8"/>
<text transform="translate(215.8,640.828) scale(1,1.08)" class="v" style="font-size:6.5px" fill="#5079C8" stroke="#5079C8">0.48</text>
<rect x="106.1" y="640.84" width="49.6" height="4.99" fill="#E57C38"/>
<text transform="translate(159.5,645.798) scale(1,1.08)" class="v" style="font-size:6.5px" fill="#E57C38" stroke="#E57C38">0.22</text>
<rect x="106.1" y="645.81" width="45" height="4.99" fill="#A5A5A5"/>
<text transform="translate(155,650.768) scale(1,1.08)" class="v" style="font-size:6.5px" fill="#A5A5A5" stroke="#A5A5A5">0.20</text>
<text transform="translate(99,646.24) scale(1,1.08)" class="c" style="font-size:8.18px" >No. 13 ERM (non-macular)</text>
<rect x="106.1" y="655.16" width="113.8" height="4.99" fill="#5079C8"/>
<text transform="translate(222,660.118) scale(1,1.08)" class="v" style="font-size:6.5px" fill="#5079C8" stroke="#5079C8">0.51</text>
<rect x="106.1" y="660.13" width="146.8" height="4.99" fill="#E57C38"/>
<text transform="translate(256.7,665.088) scale(1,1.08)" class="v" style="font-size:6.5px" fill="#E57C38" stroke="#E57C38">0.66</text>
<rect x="106.1" y="665.1" width="127.3" height="4.99" fill="#A5A5A5"/>
<text transform="translate(237.3,670.058) scale(1,1.08)" class="v" style="font-size:6.5px" fill="#A5A5A5" stroke="#A5A5A5">0.57</text>
<text transform="translate(99,665.53) scale(1,1.08)" class="c" style="font-size:8.18px" >No. 14 LMH</text>
<text transform="translate(105.1,683.593) scale(1,1.08)" class="t" style="font-size:8.2px" >0.00</text>
<text transform="translate(149.68,683.593) scale(1,1.08)" class="t" style="font-size:8.2px" >0.20</text>
<text transform="translate(194.26,683.593) scale(1,1.08)" class="t" style="font-size:8.2px" >0.40</text>
<text transform="translate(238.84,683.593) scale(1,1.08)" class="t" style="font-size:8.2px" >0.60</text>
<text transform="translate(283.42,683.593) scale(1,1.08)" class="t" style="font-size:8.2px" >0.80</text>
<text transform="translate(328,683.593) scale(1,1.08)" class="t" style="font-size:8.2px" >1.00</text>
<text transform="translate(170.6,375.2) scale(1,1.03)" class="t" style="font-size:12.4px" >F1 score</text>
<rect x="19.2" y="696.9" width="5.1" height="5.1" fill="#5079C8"/>
<text x="26.5" y="702.5" class="l" style="font-size:10.15px" >OCT-AI</text>
<rect x="70.4" y="696.9" width="5.1" height="5.1" fill="#E57C38"/>
<text x="77.8" y="702.5" class="l" style="font-size:10.15px" >Attending Ophthalmologist</text>
<rect x="204.3" y="696.9" width="5.1" height="5.1" fill="#A5A5A5"/>
<text x="212" y="702.5" class="l" style="font-size:10.15px" >Resident Ophthalmologist</text>
<text x="172.6" y="719.6" class="t" style="font-size:13.8px" >(c)</text>
<line x1="442.2" y1="385.8" x2="442.2" y2="674.1" class="gr"/>
<line x1="479.3" y1="385.8" x2="479.3" y2="674.1" class="gr"/>
<line x1="516.4" y1="385.8" x2="516.4" y2="674.1" class="gr"/>
<line x1="553.5" y1="385.8" x2="553.5" y2="674.1" class="gr"/>
<line x1="590.6" y1="385.8" x2="590.6" y2="674.1" class="gr"/>
<line x1="627.7" y1="385.8" x2="627.7" y2="674.1" class="gr"/>
<line x1="664.8" y1="385.8" x2="664.8" y2="674.1" class="gr"/>
<rect x="442.2" y="387.7" width="27.38" height="5.17" fill="#5079C8"/>
<text transform="translate(471.68,392.876) scale(1,1.08)" class="v" style="font-size:6.85px" fill="#5079C8" stroke="#5079C8">3.69</text>
<rect x="442.2" y="392.85" width="29.977" height="5.17" fill="#E57C38"/>
<text transform="translate(475.977,398.026) scale(1,1.08)" class="v" style="font-size:6.85px" fill="#E57C38" stroke="#E57C38">4.04</text>
<rect x="442.2" y="398" width="21.221" height="5.17" fill="#A5A5A5"/>
<text transform="translate(467.321,403.176) scale(1,1.08)" class="v" style="font-size:6.85px" fill="#A5A5A5" stroke="#A5A5A5">2.86</text>
<text transform="translate(435.3,398.047) scale(1,1.08)" class="c" style="font-size:8.2px" >Average</text>
<rect x="442.2" y="406.96" width="12.317" height="5.17" fill="#5079C8"/>
<text transform="translate(456.617,412.136) scale(1,1.08)" class="v" style="font-size:6.85px" fill="#5079C8" stroke="#5079C8">1.66</text>
<rect x="442.2" y="412.11" width="29.383" height="5.17" fill="#E57C38"/>
<text transform="translate(475.383,417.286) scale(1,1.08)" class="v" style="font-size:6.85px" fill="#E57C38" stroke="#E57C38">3.96</text>
<rect x="442.2" y="417.26" width="8.756" height="5.17" fill="#A5A5A5"/>
<text transform="translate(454.856,422.436) scale(1,1.08)" class="v" style="font-size:6.85px" fill="#A5A5A5" stroke="#A5A5A5">1.18</text>
<text transform="translate(435.3,417.307) scale(1,1.08)" class="c" style="font-size:8.2px" >No. 1 PED</text>
<rect x="442.2" y="426.22" width="49.12" height="5.17" fill="#5079C8"/>
<text transform="translate(493.42,431.396) scale(1,1.08)" class="v" style="font-size:6.85px" fill="#5079C8" stroke="#5079C8">6.62</text>
<rect x="442.2" y="431.37" width="9.423" height="5.17" fill="#E57C38"/>
<text transform="translate(455.423,436.546) scale(1,1.08)" class="v" style="font-size:6.85px" fill="#E57C38" stroke="#E57C38">1.27</text>
<rect x="442.2" y="436.52" width="5.491" height="5.17" fill="#A5A5A5"/>
<text transform="translate(451.591,441.696) scale(1,1.08)" class="v" style="font-size:6.85px" fill="#A5A5A5" stroke="#A5A5A5">0.74</text>
<text transform="translate(435.3,436.567) scale(1,1.08)" class="c" style="font-size:8.2px" >No. 2 PVD</text>
<rect x="442.2" y="445.48" width="46.672" height="5.17" fill="#5079C8"/>
<text transform="translate(490.972,450.656) scale(1,1.08)" class="v" style="font-size:6.85px" fill="#5079C8" stroke="#5079C8">6.29</text>
<rect x="442.2" y="450.63" width="75.981" height="5.17" fill="#E57C38"/>
<text transform="translate(521.981,455.806) scale(1,1.08)" class="v" style="font-size:6.85px" fill="#E57C38" stroke="#E57C38">10.24</text>
<rect x="442.2" y="455.78" width="101.135" height="5.17" fill="#A5A5A5"/>
<text transform="translate(547.235,460.956) scale(1,1.08)" class="v" style="font-size:6.85px" fill="#A5A5A5" stroke="#A5A5A5">13.63</text>
<text transform="translate(435.3,455.827) scale(1,1.08)" class="c" style="font-size:8.2px" >No. 3 ERM</text>
<rect x="442.2" y="464.74" width="30.793" height="5.17" fill="#5079C8"/>
<text transform="translate(475.093,469.916) scale(1,1.08)" class="v" style="font-size:6.85px" fill="#5079C8" stroke="#5079C8">4.15</text>
<rect x="442.2" y="469.89" width="13.727" height="5.17" fill="#E57C38"/>
<text transform="translate(459.727,475.066) scale(1,1.08)" class="v" style="font-size:6.85px" fill="#E57C38" stroke="#E57C38">1.85</text>
<rect x="442.2" y="475.04" width="11.798" height="5.17" fill="#A5A5A5"/>
<text transform="translate(457.898,480.216) scale(1,1.08)" class="v" style="font-size:6.85px" fill="#A5A5A5" stroke="#A5A5A5">1.59</text>
<text transform="translate(435.3,475.087) scale(1,1.08)" class="c" style="font-size:8.2px" >No. 4 SRF</text>
<rect x="442.2" y="484" width="30.941" height="5.17" fill="#5079C8"/>
<text transform="translate(475.241,489.176) scale(1,1.08)" class="v" style="font-size:6.85px" fill="#5079C8" stroke="#5079C8">4.17</text>
<rect x="442.2" y="489.15" width="2.671" height="5.17" fill="#E57C38"/>
<text transform="translate(448.671,494.326) scale(1,1.08)" class="v" style="font-size:6.85px" fill="#E57C38" stroke="#E57C38">0.36</text>
<rect x="442.2" y="494.3" width="8.088" height="5.17" fill="#A5A5A5"/>
<text transform="translate(454.188,499.476) scale(1,1.08)" class="v" style="font-size:6.85px" fill="#A5A5A5" stroke="#A5A5A5">1.09</text>
<text transform="translate(435.3,494.347) scale(1,1.08)" class="c" style="font-size:8.2px" >No. 5 CNV</text>
<rect x="442.2" y="503.26" width="81.694" height="5.17" fill="#5079C8"/>
<text transform="translate(525.994,508.436) scale(1,1.08)" class="v" style="font-size:6.85px" fill="#5079C8" stroke="#5079C8">11.01</text>
<rect x="442.2" y="508.41" width="34.429" height="5.17" fill="#E57C38"/>
<text transform="translate(480.429,513.586) scale(1,1.08)" class="v" style="font-size:6.85px" fill="#E57C38" stroke="#E57C38">4.64</text>
<rect x="442.2" y="513.56" width="26.118" height="5.17" fill="#A5A5A5"/>
<text transform="translate(472.218,518.736) scale(1,1.08)" class="v" style="font-size:6.85px" fill="#A5A5A5" stroke="#A5A5A5">3.52</text>
<text transform="translate(435.3,513.607) scale(1,1.08)" class="c" style="font-size:8.2px" >No. 6 Drusen</text>
<rect x="442.2" y="522.52" width="4.304" height="5.17" fill="#5079C8"/>
<text transform="translate(448.604,527.696) scale(1,1.08)" class="v" style="font-size:6.85px" fill="#5079C8" stroke="#5079C8">0.58</text>
<rect x="442.2" y="527.67" width="14.543" height="5.17" fill="#E57C38"/>
<text transform="translate(460.543,532.846) scale(1,1.08)" class="v" style="font-size:6.85px" fill="#E57C38" stroke="#E57C38">1.96</text>
<rect x="442.2" y="532.82" width="27.306" height="5.17" fill="#A5A5A5"/>
<text transform="translate(473.406,537.996) scale(1,1.08)" class="v" style="font-size:6.85px" fill="#A5A5A5" stroke="#A5A5A5">3.68</text>
<text transform="translate(435.3,532.867) scale(1,1.08)" class="c" style="font-size:8.2px" >No. 7 Retinoschisis</text>
<rect x="442.2" y="541.78" width="39.92" height="5.17" fill="#5079C8"/>
<text transform="translate(484.22,546.956) scale(1,1.08)" class="v" style="font-size:6.85px" fill="#5079C8" stroke="#5079C8">5.38</text>
<rect x="442.2" y="546.93" width="28.493" height="5.17" fill="#E57C38"/>
<text transform="translate(474.493,552.106) scale(1,1.08)" class="v" style="font-size:6.85px" fill="#E57C38" stroke="#E57C38">3.84</text>
<rect x="442.2" y="552.08" width="5.713" height="5.17" fill="#A5A5A5"/>
<text transform="translate(451.813,557.256) scale(1,1.08)" class="v" style="font-size:6.85px" fill="#A5A5A5" stroke="#A5A5A5">0.77</text>
<text transform="translate(435.3,552.127) scale(1,1.08)" class="c" style="font-size:8.2px" >No. 8 CME</text>
<rect x="442.2" y="561.04" width="36.506" height="5.17" fill="#5079C8"/>
<text transform="translate(480.806,566.216) scale(1,1.08)" class="v" style="font-size:6.85px" fill="#5079C8" stroke="#5079C8">4.92</text>
<rect x="442.2" y="566.19" width="26.564" height="5.17" fill="#E57C38"/>
<text transform="translate(472.564,571.366) scale(1,1.08)" class="v" style="font-size:6.85px" fill="#E57C38" stroke="#E57C38">3.58</text>
<rect x="442.2" y="571.34" width="24.486" height="5.17" fill="#A5A5A5"/>
<text transform="translate(470.586,576.516) scale(1,1.08)" class="v" style="font-size:6.85px" fill="#A5A5A5" stroke="#A5A5A5">3.30</text>
<text transform="translate(435.3,571.387) scale(1,1.08)" class="c" style="font-size:8.2px" >No. 9 HE</text>
<rect x="442.2" y="580.3" width="2.745" height="5.17" fill="#5079C8"/>
<text transform="translate(447.045,585.476) scale(1,1.08)" class="v" style="font-size:6.85px" fill="#5079C8" stroke="#5079C8">0.37</text>
<rect x="442.2" y="585.45" width="1.558" height="5.17" fill="#E57C38"/>
<text transform="translate(447.558,590.626) scale(1,1.08)" class="v" style="font-size:6.85px" fill="#E57C38" stroke="#E57C38">0.21</text>
<rect x="442.2" y="590.6" width="3.487" height="5.17" fill="#A5A5A5"/>
<text transform="translate(449.587,595.776) scale(1,1.08)" class="v" style="font-size:6.85px" fill="#A5A5A5" stroke="#A5A5A5">0.47</text>
<text transform="translate(435.3,590.647) scale(1,1.08)" class="c" style="font-size:8.2px" >No. 10 FTMH</text>
<text transform="translate(444.3,604.736) scale(1,1.08)" class="v" style="font-size:6.85px" fill="#5079C8" stroke="#5079C8">0.00</text>
<rect x="442.2" y="604.71" width="16.101" height="5.17" fill="#E57C38"/>
<text transform="translate(462.101,609.886) scale(1,1.08)" class="v" style="font-size:6.85px" fill="#E57C38" stroke="#E57C38">2.17</text>
<rect x="442.2" y="609.86" width="10.611" height="5.17" fill="#A5A5A5"/>
<text transform="translate(456.711,615.036) scale(1,1.08)" class="v" style="font-size:6.85px" fill="#A5A5A5" stroke="#A5A5A5">1.43</text>
<text transform="translate(435.3,609.907) scale(1,1.08)" class="c" style="font-size:8.2px" >No. 11 RD</text>
<rect x="442.2" y="618.82" width="2.3" height="5.17" fill="#5079C8"/>
<text transform="translate(446.6,623.996) scale(1,1.08)" class="v" style="font-size:6.85px" fill="#5079C8" stroke="#5079C8">0.31</text>
<rect x="442.2" y="623.97" width="81.546" height="5.17" fill="#E57C38"/>
<text transform="translate(527.546,629.146) scale(1,1.08)" class="v" style="font-size:6.85px" fill="#E57C38" stroke="#E57C38">10.99</text>
<rect x="442.2" y="629.12" width="29.086" height="5.17" fill="#A5A5A5"/>
<text transform="translate(475.186,634.296) scale(1,1.08)" class="v" style="font-size:6.85px" fill="#A5A5A5" stroke="#A5A5A5">3.92</text>
<text transform="translate(435.3,629.167) scale(1,1.08)" class="c" style="font-size:8.2px" >No. 12 IS/OS disruption</text>
<rect x="442.2" y="638.08" width="47.117" height="5.17" fill="#5079C8"/>
<text transform="translate(491.417,643.256) scale(1,1.08)" class="v" style="font-size:6.85px" fill="#5079C8" stroke="#5079C8">6.35</text>
<rect x="442.2" y="643.23" width="88.817" height="5.17" fill="#E57C38"/>
<text transform="translate(534.817,648.406) scale(1,1.08)" class="v" style="font-size:6.85px" fill="#E57C38" stroke="#E57C38">11.97</text>
<rect x="442.2" y="648.38" width="48.304" height="5.17" fill="#A5A5A5"/>
<text transform="translate(494.404,653.556) scale(1,1.08)" class="v" style="font-size:6.85px" fill="#A5A5A5" stroke="#A5A5A5">6.51</text>
<text transform="translate(435.3,648.427) scale(1,1.08)" class="c" style="font-size:8.2px" >No. 13 ERM (non-macular)</text>
<rect x="442.2" y="657.34" width="25.97" height="5.17" fill="#5079C8"/>
<text transform="translate(470.27,662.516) scale(1,1.08)" class="v" style="font-size:6.85px" fill="#5079C8" stroke="#5079C8">3.50</text>
<rect x="442.2" y="662.49" width="4.229" height="5.17" fill="#E57C38"/>
<text transform="translate(450.229,667.666) scale(1,1.08)" class="v" style="font-size:6.85px" fill="#E57C38" stroke="#E57C38">0.57</text>
<rect x="442.2" y="667.64" width="3.116" height="5.17" fill="#A5A5A5"/>
<text transform="translate(449.216,672.816) scale(1,1.08)" class="v" style="font-size:6.85px" fill="#A5A5A5" stroke="#A5A5A5">0.42</text>
<text transform="translate(435.3,667.687) scale(1,1.08)" class="c" style="font-size:8.2px" >No. 14 LMH</text>
<text transform="translate(442.2,686.574) scale(1,1.08)" class="t" style="font-size:7.6px" >0</text>
<text transform="translate(479.3,686.574) scale(1,1.08)" class="t" style="font-size:7.6px" >5</text>
<text transform="translate(516.4,686.574) scale(1,1.08)" class="t" style="font-size:7.6px" >10</text>
<text transform="translate(553.5,686.574) scale(1,1.08)" class="t" style="font-size:7.6px" >15</text>
<text transform="translate(590.6,686.574) scale(1,1.08)" class="t" style="font-size:7.6px" >20</text>
<text transform="translate(627.7,686.574) scale(1,1.08)" class="t" style="font-size:7.6px" >25</text>
<text transform="translate(664.8,686.574) scale(1,1.08)" class="t" style="font-size:7.6px" >30</text>
<text transform="translate(508,375.3) scale(1,1.03)" class="t" style="font-size:12.55px" >FPR (%)</text>
<rect x="357.3" y="697.3" width="5" height="5" fill="#5079C8"/>
<text x="364.9" y="702.6" class="l" style="font-size:10.15px" >OCT-AI</text>
<rect x="408.4" y="697.3" width="5" height="5" fill="#E57C38"/>
<text x="416" y="702.6" class="l" style="font-size:10.15px" >Attending Ophthalmologist</text>
<rect x="541.9" y="697.3" width="5" height="5" fill="#A5A5A5"/>
<text x="549.6" y="702.6" class="l" style="font-size:10.15px" >Resident Ophthalmologist</text>
<text x="537.1" y="719.5" class="t" style="font-size:13.8px" >(d)</text>
<line x1="105" y1="752" x2="105" y2="1040.4" class="gr"/>
<line x1="149.48" y1="752" x2="149.48" y2="1040.4" class="gr"/>
<line x1="193.96" y1="752" x2="193.96" y2="1040.4" class="gr"/>
<line x1="238.44" y1="752" x2="238.44" y2="1040.4" class="gr"/>
<line x1="282.92" y1="752" x2="282.92" y2="1040.4" class="gr"/>
<line x1="327.4" y1="752" x2="327.4" y2="1040.4" class="gr"/>
<rect x="105" y="754" width="47.727" height="4.97" fill="#5079C8"/>
<text transform="translate(154.827,759.094) scale(1,1.08)" class="v" style="font-size:6.9px" fill="#5079C8" stroke="#5079C8">21.46</text>
<rect x="105" y="758.95" width="90.717" height="4.97" fill="#E57C38"/>
<text transform="translate(199.517,764.044) scale(1,1.08)" class="v" style="font-size:6.9px" fill="#E57C38" stroke="#E57C38">40.79</text>
<rect x="105" y="763.9" width="128.992" height="4.97" fill="#A5A5A5"/>
<text transform="translate(237.892,768.994) scale(1,1.08)" class="v" style="font-size:6.9px" fill="#A5A5A5" stroke="#A5A5A5">58.00</text>
<text transform="translate(97.6,764.347) scale(1,1.08)" class="c" style="font-size:8.2px" >Average</text>
<rect x="105" y="773.27" width="37.341" height="4.97" fill="#5079C8"/>
<text transform="translate(144.441,778.364) scale(1,1.08)" class="v" style="font-size:6.9px" fill="#5079C8" stroke="#5079C8">16.79</text>
<rect x="105" y="778.22" width="30.847" height="4.97" fill="#E57C38"/>
<text transform="translate(139.647,783.314) scale(1,1.08)" class="v" style="font-size:6.9px" fill="#E57C38" stroke="#E57C38">13.87</text>
<rect x="105" y="783.17" width="137.977" height="4.97" fill="#A5A5A5"/>
<text transform="translate(246.877,788.264) scale(1,1.08)" class="v" style="font-size:6.9px" fill="#A5A5A5" stroke="#A5A5A5">62.04</text>
<text transform="translate(97.6,783.617) scale(1,1.08)" class="c" style="font-size:8.2px" >No. 1 PED</text>
<rect x="105" y="792.54" width="24.086" height="4.97" fill="#5079C8"/>
<text transform="translate(131.186,797.634) scale(1,1.08)" class="v" style="font-size:6.9px" fill="#5079C8" stroke="#5079C8">10.83</text>
<rect x="105" y="797.49" width="136.598" height="4.97" fill="#E57C38"/>
<text transform="translate(245.398,802.584) scale(1,1.08)" class="v" style="font-size:6.9px" fill="#E57C38" stroke="#E57C38">61.42</text>
<rect x="105" y="802.44" width="135.708" height="4.97" fill="#A5A5A5"/>
<text transform="translate(244.608,807.534) scale(1,1.08)" class="v" style="font-size:6.9px" fill="#A5A5A5" stroke="#A5A5A5">61.02</text>
<text transform="translate(97.6,802.887) scale(1,1.08)" class="c" style="font-size:8.2px" >No. 2 PVD</text>
<rect x="105" y="811.81" width="35.184" height="4.97" fill="#5079C8"/>
<text transform="translate(142.284,816.904) scale(1,1.08)" class="v" style="font-size:6.9px" fill="#5079C8" stroke="#5079C8">15.82</text>
<rect x="105" y="816.76" width="79.797" height="4.97" fill="#E57C38"/>
<text transform="translate(188.597,821.854) scale(1,1.08)" class="v" style="font-size:6.9px" fill="#E57C38" stroke="#E57C38">35.88</text>
<rect x="105" y="821.71" width="89.649" height="4.97" fill="#A5A5A5"/>
<text transform="translate(198.549,826.804) scale(1,1.08)" class="v" style="font-size:6.9px" fill="#A5A5A5" stroke="#A5A5A5">40.31</text>
<text transform="translate(97.6,822.157) scale(1,1.08)" class="c" style="font-size:8.2px" >No. 3 ERM</text>
<rect x="105" y="831.08" width="9.697" height="4.97" fill="#5079C8"/>
<text transform="translate(116.797,836.174) scale(1,1.08)" class="v" style="font-size:6.9px" fill="#5079C8" stroke="#5079C8">4.36</text>
<rect x="105" y="836.03" width="32.648" height="4.97" fill="#E57C38"/>
<text transform="translate(141.448,841.124) scale(1,1.08)" class="v" style="font-size:6.9px" fill="#E57C38" stroke="#E57C38">14.68</text>
<rect x="105" y="840.98" width="70.39" height="4.97" fill="#A5A5A5"/>
<text transform="translate(179.29,846.074) scale(1,1.08)" class="v" style="font-size:6.9px" fill="#A5A5A5" stroke="#A5A5A5">31.65</text>
<text transform="translate(97.6,841.427) scale(1,1.08)" class="c" style="font-size:8.2px" >No. 4 SRF</text>
<rect x="105" y="850.35" width="38.764" height="4.97" fill="#5079C8"/>
<text transform="translate(145.864,855.444) scale(1,1.08)" class="v" style="font-size:6.9px" fill="#5079C8" stroke="#5079C8">17.43</text>
<rect x="105" y="855.3" width="158.86" height="4.97" fill="#E57C38"/>
<text transform="translate(267.66,860.394) scale(1,1.08)" class="v" style="font-size:6.9px" fill="#E57C38" stroke="#E57C38">71.43</text>
<rect x="105" y="860.25" width="167.111" height="4.97" fill="#A5A5A5"/>
<text transform="translate(276.011,865.344) scale(1,1.08)" class="v" style="font-size:6.9px" fill="#A5A5A5" stroke="#A5A5A5">75.14</text>
<text transform="translate(97.6,860.697) scale(1,1.08)" class="c" style="font-size:8.2px" >No. 5 CNV</text>
<rect x="105" y="869.62" width="36.896" height="4.97" fill="#5079C8"/>
<text transform="translate(143.996,874.714) scale(1,1.08)" class="v" style="font-size:6.9px" fill="#5079C8" stroke="#5079C8">16.59</text>
<rect x="105" y="874.57" width="148.941" height="4.97" fill="#E57C38"/>
<text transform="translate(257.741,879.664) scale(1,1.08)" class="v" style="font-size:6.9px" fill="#E57C38" stroke="#E57C38">66.97</text>
<rect x="105" y="879.52" width="176.519" height="4.97" fill="#A5A5A5"/>
<text transform="translate(285.419,884.614) scale(1,1.08)" class="v" style="font-size:6.9px" fill="#A5A5A5" stroke="#A5A5A5">79.37</text>
<text transform="translate(97.6,879.967) scale(1,1.08)" class="c" style="font-size:8.2px" >No. 6 Drusen</text>
<rect x="105" y="888.89" width="99.124" height="4.97" fill="#5079C8"/>
<text transform="translate(206.224,893.984) scale(1,1.08)" class="v" style="font-size:6.9px" fill="#5079C8" stroke="#5079C8">44.57</text>
<rect x="105" y="893.84" width="147.429" height="4.97" fill="#E57C38"/>
<text transform="translate(256.229,898.934) scale(1,1.08)" class="v" style="font-size:6.9px" fill="#E57C38" stroke="#E57C38">66.29</text>
<rect x="105" y="898.79" width="173.25" height="4.97" fill="#A5A5A5"/>
<text transform="translate(282.15,903.884) scale(1,1.08)" class="v" style="font-size:6.9px" fill="#A5A5A5" stroke="#A5A5A5">77.90</text>
<text transform="translate(97.6,899.237) scale(1,1.08)" class="c" style="font-size:8.2px" >No. 7 Retinoschisis</text>
<rect x="105" y="908.16" width="19.927" height="4.97" fill="#5079C8"/>
<text transform="translate(127.027,913.254) scale(1,1.08)" class="v" style="font-size:6.9px" fill="#5079C8" stroke="#5079C8">8.96</text>
<rect x="105" y="913.11" width="42.701" height="4.97" fill="#E57C38"/>
<text transform="translate(151.501,918.204) scale(1,1.08)" class="v" style="font-size:6.9px" fill="#E57C38" stroke="#E57C38">19.20</text>
<rect x="105" y="918.06" width="114.202" height="4.97" fill="#A5A5A5"/>
<text transform="translate(223.102,923.154) scale(1,1.08)" class="v" style="font-size:6.9px" fill="#A5A5A5" stroke="#A5A5A5">51.35</text>
<text transform="translate(97.6,918.507) scale(1,1.08)" class="c" style="font-size:8.2px" >No. 8 CME</text>
<rect x="105" y="927.43" width="34.516" height="4.97" fill="#5079C8"/>
<text transform="translate(141.616,932.524) scale(1,1.08)" class="v" style="font-size:6.9px" fill="#5079C8" stroke="#5079C8">15.52</text>
<rect x="105" y="932.38" width="75.149" height="4.97" fill="#E57C38"/>
<text transform="translate(183.949,937.474) scale(1,1.08)" class="v" style="font-size:6.9px" fill="#E57C38" stroke="#E57C38">33.79</text>
<rect x="105" y="937.33" width="137.265" height="4.97" fill="#A5A5A5"/>
<text transform="translate(246.165,942.424) scale(1,1.08)" class="v" style="font-size:6.9px" fill="#A5A5A5" stroke="#A5A5A5">61.72</text>
<text transform="translate(97.6,937.777) scale(1,1.08)" class="c" style="font-size:8.2px" >No. 9 HE</text>
<rect x="105" y="946.7" width="128.859" height="4.97" fill="#5079C8"/>
<text transform="translate(235.959,951.794) scale(1,1.08)" class="v" style="font-size:6.9px" fill="#5079C8" stroke="#5079C8">57.94</text>
<rect x="105" y="951.65" width="6.227" height="4.97" fill="#E57C38"/>
<text transform="translate(115.027,956.744) scale(1,1.08)" class="v" style="font-size:6.9px" fill="#E57C38" stroke="#E57C38">2.80</text>
<rect x="105" y="956.6" width="12.477" height="4.97" fill="#A5A5A5"/>
<text transform="translate(121.377,961.694) scale(1,1.08)" class="v" style="font-size:6.9px" fill="#A5A5A5" stroke="#A5A5A5">5.61</text>
<text transform="translate(97.6,957.047) scale(1,1.08)" class="c" style="font-size:8.2px" >No. 10 FTMH</text>
<rect x="105" y="965.97" width="145.65" height="4.97" fill="#5079C8"/>
<text transform="translate(252.75,971.064) scale(1,1.08)" class="v" style="font-size:6.9px" fill="#5079C8" stroke="#5079C8">65.49</text>
<rect x="105" y="970.92" width="17.703" height="4.97" fill="#E57C38"/>
<text transform="translate(126.503,976.014) scale(1,1.08)" class="v" style="font-size:6.9px" fill="#E57C38" stroke="#E57C38">7.96</text>
<rect x="105" y="975.87" width="55.111" height="4.97" fill="#A5A5A5"/>
<text transform="translate(164.011,980.964) scale(1,1.08)" class="v" style="font-size:6.9px" fill="#A5A5A5" stroke="#A5A5A5">24.78</text>
<text transform="translate(97.6,976.317) scale(1,1.08)" class="c" style="font-size:8.2px" >No. 11 RD</text>
<rect x="105" y="985.24" width="139.979" height="4.97" fill="#5079C8"/>
<text transform="translate(247.079,990.334) scale(1,1.08)" class="v" style="font-size:6.9px" fill="#5079C8" stroke="#5079C8">62.94</text>
<rect x="105" y="990.19" width="75.638" height="4.97" fill="#E57C38"/>
<text transform="translate(184.438,995.284) scale(1,1.08)" class="v" style="font-size:6.9px" fill="#E57C38" stroke="#E57C38">34.01</text>
<rect x="105" y="995.14" width="154.657" height="4.97" fill="#A5A5A5"/>
<text transform="translate(263.557,1000.234) scale(1,1.08)" class="v" style="font-size:6.9px" fill="#A5A5A5" stroke="#A5A5A5">69.54</text>
<text transform="translate(97.6,995.587) scale(1,1.08)" class="c" style="font-size:8.2px" >No. 12 IS/OS disruption</text>
<rect x="105" y="1004.51" width="65.141" height="4.97" fill="#5079C8"/>
<text transform="translate(172.241,1009.604) scale(1,1.08)" class="v" style="font-size:6.9px" fill="#5079C8" stroke="#5079C8">29.29</text>
<rect x="105" y="1009.46" width="130.304" height="4.97" fill="#E57C38"/>
<text transform="translate(239.104,1014.554) scale(1,1.08)" class="v" style="font-size:6.9px" fill="#E57C38" stroke="#E57C38">58.59</text>
<rect x="105" y="1014.41" width="166.244" height="4.97" fill="#A5A5A5"/>
<text transform="translate(275.144,1019.504) scale(1,1.08)" class="v" style="font-size:6.9px" fill="#A5A5A5" stroke="#A5A5A5">74.75</text>
<text transform="translate(97.6,1014.857) scale(1,1.08)" class="c" style="font-size:8.2px" >No. 13 ERM (non-macular)</text>
<rect x="105" y="1023.78" width="86.914" height="4.97" fill="#5079C8"/>
<text transform="translate(194.014,1028.874) scale(1,1.08)" class="v" style="font-size:6.9px" fill="#5079C8" stroke="#5079C8">39.08</text>
<rect x="105" y="1028.73" width="99.702" height="4.97" fill="#E57C38"/>
<text transform="translate(208.502,1033.824) scale(1,1.08)" class="v" style="font-size:6.9px" fill="#E57C38" stroke="#E57C38">44.83</text>
<rect x="105" y="1033.68" width="125.256" height="4.97" fill="#A5A5A5"/>
<text transform="translate(234.156,1038.774) scale(1,1.08)" class="v" style="font-size:6.9px" fill="#A5A5A5" stroke="#A5A5A5">56.32</text>
<text transform="translate(97.6,1034.127) scale(1,1.08)" class="c" style="font-size:8.2px" >No. 14 LMH</text>
<text transform="translate(105,1052.574) scale(1,1.08)" class="t" style="font-size:7.6px" >0</text>
<text transform="translate(149.48,1052.574) scale(1,1.08)" class="t" style="font-size:7.6px" >20</text>
<text transform="translate(193.96,1052.574) scale(1,1.08)" class="t" style="font-size:7.6px" >40</text>
<text transform="translate(238.44,1052.574) scale(1,1.08)" class="t" style="font-size:7.6px" >60</text>
<text transform="translate(282.92,1052.574) scale(1,1.08)" class="t" style="font-size:7.6px" >80</text>
<text transform="translate(327.4,1052.574) scale(1,1.08)" class="t" style="font-size:7.6px" >100</text>
<text transform="translate(170.4,741.2) scale(1,1.03)" class="t" style="font-size:12.75px" >FNR (%)</text>
<rect x="19.2" y="1063.7" width="5" height="5" fill="#5079C8"/>
<text x="26.3" y="1068.8" class="l" style="font-size:10.15px" >OCT-AI</text>
<rect x="69.8" y="1063.7" width="5" height="5" fill="#E57C38"/>
<text x="77.4" y="1068.8" class="l" style="font-size:10.15px" >Attending Ophthalmologist</text>
<rect x="204" y="1063.7" width="5" height="5" fill="#A5A5A5"/>
<text x="211.2" y="1068.8" class="l" style="font-size:10.15px" >Resident Ophthalmologist</text>
<text x="172" y="1085.5" class="t" style="font-size:13.8px" >(e)</text>
<line x1="442.1" y1="752" x2="442.1" y2="1040.4" class="gr"/>
<line x1="486.68" y1="752" x2="486.68" y2="1040.4" class="gr"/>
<line x1="531.26" y1="752" x2="531.26" y2="1040.4" class="gr"/>
<line x1="575.84" y1="752" x2="575.84" y2="1040.4" class="gr"/>
<line x1="620.42" y1="752" x2="620.42" y2="1040.4" class="gr"/>
<line x1="665" y1="752" x2="665" y2="1040.4" class="gr"/>
<rect x="442.1" y="754" width="169.4" height="4.97" fill="#5079C8"/>
<text transform="translate(613.6,759.094) scale(1,1.08)" class="v" style="font-size:6.9px" fill="#5079C8" stroke="#5079C8">0.76</text>
<rect x="442.1" y="758.95" width="134.9" height="4.97" fill="#E57C38"/>
<text transform="translate(580.8,764.044) scale(1,1.08)" class="v" style="font-size:6.9px" fill="#E57C38" stroke="#E57C38">0.60</text>
<rect x="442.1" y="763.9" width="106" height="4.97" fill="#A5A5A5"/>
<text transform="translate(552,768.994) scale(1,1.08)" class="v" style="font-size:6.9px" fill="#A5A5A5" stroke="#A5A5A5">0.47</text>
<text transform="translate(435,764.33) scale(1,1.08)" class="c" style="font-size:8.15px" >Average</text>
<rect x="442.1" y="773.27" width="176.7" height="4.97" fill="#5079C8"/>
<text transform="translate(620.9,778.364) scale(1,1.08)" class="v" style="font-size:6.9px" fill="#5079C8" stroke="#5079C8">0.79</text>
<rect x="442.1" y="778.22" width="154.3" height="4.97" fill="#E57C38"/>
<text transform="translate(600.2,783.314) scale(1,1.08)" class="v" style="font-size:6.9px" fill="#E57C38" stroke="#E57C38">0.69</text>
<rect x="442.1" y="783.17" width="104.3" height="4.97" fill="#A5A5A5"/>
<text transform="translate(550.3,788.264) scale(1,1.08)" class="v" style="font-size:6.9px" fill="#A5A5A5" stroke="#A5A5A5">0.47</text>
<text transform="translate(435,783.6) scale(1,1.08)" class="c" style="font-size:8.15px" >No. 1 PED</text>
<rect x="442.1" y="792.54" width="178.9" height="4.97" fill="#5079C8"/>
<text transform="translate(623.1,797.634) scale(1,1.08)" class="v" style="font-size:6.9px" fill="#5079C8" stroke="#5079C8">0.80</text>
<rect x="442.1" y="797.49" width="102.7" height="4.97" fill="#E57C38"/>
<text transform="translate(548.6,802.584) scale(1,1.08)" class="v" style="font-size:6.9px" fill="#E57C38" stroke="#E57C38">0.46</text>
<rect x="442.1" y="802.44" width="106" height="4.97" fill="#A5A5A5"/>
<text transform="translate(552,807.534) scale(1,1.08)" class="v" style="font-size:6.9px" fill="#A5A5A5" stroke="#A5A5A5">0.47</text>
<text transform="translate(435,802.87) scale(1,1.08)" class="c" style="font-size:8.15px" >No. 2 PVD</text>
<rect x="442.1" y="811.81" width="174" height="4.97" fill="#5079C8"/>
<text transform="translate(618.2,816.904) scale(1,1.08)" class="v" style="font-size:6.9px" fill="#5079C8" stroke="#5079C8">0.78</text>
<rect x="442.1" y="816.76" width="124.1" height="4.97" fill="#E57C38"/>
<text transform="translate(570,821.854) scale(1,1.08)" class="v" style="font-size:6.9px" fill="#E57C38" stroke="#E57C38">0.56</text>
<rect x="442.1" y="821.71" width="104.9" height="4.97" fill="#A5A5A5"/>
<text transform="translate(550.9,826.804) scale(1,1.08)" class="v" style="font-size:6.9px" fill="#A5A5A5" stroke="#A5A5A5">0.47</text>
<text transform="translate(435,822.14) scale(1,1.08)" class="c" style="font-size:8.15px" >No. 3 ERM</text>
<rect x="442.1" y="831.08" width="196.4" height="4.97" fill="#5079C8"/>
<text transform="translate(640.6,836.174) scale(1,1.08)" class="v" style="font-size:6.9px" fill="#5079C8" stroke="#5079C8">0.88</text>
<rect x="442.1" y="836.03" width="191.6" height="4.97" fill="#E57C38"/>
<text transform="translate(637.5,841.124) scale(1,1.08)" class="v" style="font-size:6.9px" fill="#E57C38" stroke="#E57C38">0.86</text>
<rect x="442.1" y="840.98" width="164" height="4.97" fill="#A5A5A5"/>
<text transform="translate(610,846.074) scale(1,1.08)" class="v" style="font-size:6.9px" fill="#A5A5A5" stroke="#A5A5A5">0.74</text>
<text transform="translate(435,841.41) scale(1,1.08)" class="c" style="font-size:8.15px" >No. 4 SRF</text>
<rect x="442.1" y="850.35" width="172.9" height="4.97" fill="#5079C8"/>
<text transform="translate(617.1,855.444) scale(1,1.08)" class="v" style="font-size:6.9px" fill="#5079C8" stroke="#5079C8">0.78</text>
<rect x="442.1" y="855.3" width="86.8" height="4.97" fill="#E57C38"/>
<text transform="translate(532.7,860.394) scale(1,1.08)" class="v" style="font-size:6.9px" fill="#E57C38" stroke="#E57C38">0.39</text>
<rect x="442.1" y="860.25" width="73" height="4.97" fill="#A5A5A5"/>
<text transform="translate(519,865.344) scale(1,1.08)" class="v" style="font-size:6.9px" fill="#A5A5A5" stroke="#A5A5A5">0.33</text>
<text transform="translate(435,860.68) scale(1,1.08)" class="c" style="font-size:8.15px" >No. 5 CNV</text>
<rect x="442.1" y="869.62" width="159.4" height="4.97" fill="#5079C8"/>
<text transform="translate(603.6,874.714) scale(1,1.08)" class="v" style="font-size:6.9px" fill="#5079C8" stroke="#5079C8">0.71</text>
<rect x="442.1" y="874.57" width="73.8" height="4.97" fill="#E57C38"/>
<text transform="translate(519.7,879.664) scale(1,1.08)" class="v" style="font-size:6.9px" fill="#E57C38" stroke="#E57C38">0.33</text>
<rect x="442.1" y="879.52" width="46.8" height="4.97" fill="#A5A5A5"/>
<text transform="translate(492.8,884.614) scale(1,1.08)" class="v" style="font-size:6.9px" fill="#A5A5A5" stroke="#A5A5A5">0.21</text>
<text transform="translate(435,879.95) scale(1,1.08)" class="c" style="font-size:8.15px" >No. 6 Drusen</text>
<rect x="442.1" y="888.89" width="147.8" height="4.97" fill="#5079C8"/>
<text transform="translate(592,893.984) scale(1,1.08)" class="v" style="font-size:6.9px" fill="#5079C8" stroke="#5079C8">0.66</text>
<rect x="442.1" y="893.84" width="91.9" height="4.97" fill="#E57C38"/>
<text transform="translate(537.8,898.934) scale(1,1.08)" class="v" style="font-size:6.9px" fill="#E57C38" stroke="#E57C38">0.41</text>
<rect x="442.1" y="898.79" width="53" height="4.97" fill="#A5A5A5"/>
<text transform="translate(499,903.884) scale(1,1.08)" class="v" style="font-size:6.9px" fill="#A5A5A5" stroke="#A5A5A5">0.24</text>
<text transform="translate(435,899.22) scale(1,1.08)" class="c" style="font-size:8.15px" >No. 7 Retinoschisis</text>
<rect x="442.1" y="908.16" width="190.7" height="4.97" fill="#5079C8"/>
<text transform="translate(634.9,913.254) scale(1,1.08)" class="v" style="font-size:6.9px" fill="#5079C8" stroke="#5079C8">0.85</text>
<rect x="442.1" y="913.11" width="176.2" height="4.97" fill="#E57C38"/>
<text transform="translate(622.1,918.204) scale(1,1.08)" class="v" style="font-size:6.9px" fill="#E57C38" stroke="#E57C38">0.79</text>
<rect x="442.1" y="918.06" width="120.8" height="4.97" fill="#A5A5A5"/>
<text transform="translate(566.8,923.154) scale(1,1.08)" class="v" style="font-size:6.9px" fill="#A5A5A5" stroke="#A5A5A5">0.54</text>
<text transform="translate(435,918.49) scale(1,1.08)" class="c" style="font-size:8.15px" >No. 8 CME</text>
<rect x="442.1" y="927.43" width="178.9" height="4.97" fill="#5079C8"/>
<text transform="translate(623.1,932.524) scale(1,1.08)" class="v" style="font-size:6.9px" fill="#5079C8" stroke="#5079C8">0.80</text>
<rect x="442.1" y="932.38" width="150.8" height="4.97" fill="#E57C38"/>
<text transform="translate(596.7,937.474) scale(1,1.08)" class="v" style="font-size:6.9px" fill="#E57C38" stroke="#E57C38">0.68</text>
<rect x="442.1" y="937.33" width="92.7" height="4.97" fill="#A5A5A5"/>
<text transform="translate(538.7,942.424) scale(1,1.08)" class="v" style="font-size:6.9px" fill="#A5A5A5" stroke="#A5A5A5">0.42</text>
<text transform="translate(435,937.76) scale(1,1.08)" class="c" style="font-size:8.15px" >No. 9 HE</text>
<rect x="442.1" y="946.7" width="122.6" height="4.97" fill="#5079C8"/>
<text transform="translate(566.8,951.794) scale(1,1.08)" class="v" style="font-size:6.9px" fill="#5079C8" stroke="#5079C8">0.55</text>
<rect x="442.1" y="951.65" width="215.5" height="4.97" fill="#E57C38"/>
<text transform="translate(661.4,956.744) scale(1,1.08)" class="v" style="font-size:6.9px" fill="#E57C38" stroke="#E57C38">0.97</text>
<rect x="442.1" y="956.6" width="206.5" height="4.97" fill="#A5A5A5"/>
<text transform="translate(652.5,961.694) scale(1,1.08)" class="v" style="font-size:6.9px" fill="#A5A5A5" stroke="#A5A5A5">0.93</text>
<text transform="translate(435,957.03) scale(1,1.08)" class="c" style="font-size:8.15px" >No. 10 FTMH</text>
<rect x="442.1" y="965.97" width="110.9" height="4.97" fill="#5079C8"/>
<text transform="translate(555.1,971.064) scale(1,1.08)" class="v" style="font-size:6.9px" fill="#5079C8" stroke="#5079C8">0.50</text>
<rect x="442.1" y="970.92" width="176.8" height="4.97" fill="#E57C38"/>
<text transform="translate(622.7,976.014) scale(1,1.08)" class="v" style="font-size:6.9px" fill="#E57C38" stroke="#E57C38">0.79</text>
<rect x="442.1" y="975.87" width="165.2" height="4.97" fill="#A5A5A5"/>
<text transform="translate(611.2,980.964) scale(1,1.08)" class="v" style="font-size:6.9px" fill="#A5A5A5" stroke="#A5A5A5">0.74</text>
<text transform="translate(435,976.3) scale(1,1.08)" class="c" style="font-size:8.15px" >No. 11 RD</text>
<rect x="442.1" y="985.24" width="106.6" height="4.97" fill="#5079C8"/>
<text transform="translate(550.8,990.334) scale(1,1.08)" class="v" style="font-size:6.9px" fill="#5079C8" stroke="#5079C8">0.48</text>
<rect x="442.1" y="990.19" width="117.7" height="4.97" fill="#E57C38"/>
<text transform="translate(563.6,995.284) scale(1,1.08)" class="v" style="font-size:6.9px" fill="#E57C38" stroke="#E57C38">0.53</text>
<rect x="442.1" y="995.14" width="76.9" height="4.97" fill="#A5A5A5"/>
<text transform="translate(522.9,1000.234) scale(1,1.08)" class="v" style="font-size:6.9px" fill="#A5A5A5" stroke="#A5A5A5">0.34</text>
<text transform="translate(435,995.57) scale(1,1.08)" class="c" style="font-size:8.15px" >No. 12 IS/OS disruption</text>
<rect x="442.1" y="1004.51" width="99.3" height="4.97" fill="#5079C8"/>
<text transform="translate(543.5,1009.604) scale(1,1.08)" class="v" style="font-size:6.9px" fill="#5079C8" stroke="#5079C8">0.45</text>
<rect x="442.1" y="1009.46" width="35.9" height="4.97" fill="#E57C38"/>
<text transform="translate(481.8,1014.554) scale(1,1.08)" class="v" style="font-size:6.9px" fill="#E57C38" stroke="#E57C38">0.16</text>
<rect x="442.1" y="1014.41" width="33.7" height="4.97" fill="#A5A5A5"/>
<text transform="translate(479.7,1019.504) scale(1,1.08)" class="v" style="font-size:6.9px" fill="#A5A5A5" stroke="#A5A5A5">0.15</text>
<text transform="translate(435,1014.84) scale(1,1.08)" class="c" style="font-size:8.15px" >No. 13 ERM (non-macular)</text>
<rect x="442.1" y="1023.78" width="108" height="4.97" fill="#5079C8"/>
<text transform="translate(552.2,1028.874) scale(1,1.08)" class="v" style="font-size:6.9px" fill="#5079C8" stroke="#5079C8">0.49</text>
<rect x="442.1" y="1028.73" width="143.9" height="4.97" fill="#E57C38"/>
<text transform="translate(589.8,1033.824) scale(1,1.08)" class="v" style="font-size:6.9px" fill="#E57C38" stroke="#E57C38">0.65</text>
<rect x="442.1" y="1033.68" width="124.7" height="4.97" fill="#A5A5A5"/>
<text transform="translate(570.7,1038.774) scale(1,1.08)" class="v" style="font-size:6.9px" fill="#A5A5A5" stroke="#A5A5A5">0.56</text>
<text transform="translate(435,1034.11) scale(1,1.08)" class="c" style="font-size:8.15px" >No. 14 LMH</text>
<text transform="translate(442.1,1052.774) scale(1,1.08)" class="t" style="font-size:7.6px" >0</text>
<text transform="translate(486.68,1052.774) scale(1,1.08)" class="t" style="font-size:7.6px" >0.2</text>
<text transform="translate(531.26,1052.774) scale(1,1.08)" class="t" style="font-size:7.6px" >0.4</text>
<text transform="translate(575.84,1052.774) scale(1,1.08)" class="t" style="font-size:7.6px" >0.6</text>
<text transform="translate(620.42,1052.774) scale(1,1.08)" class="t" style="font-size:7.6px" >0.8</text>
<text transform="translate(665,1052.774) scale(1,1.08)" class="t" style="font-size:7.6px" >1</text>
<text transform="translate(508.1,741.5) scale(1,1.03)" class="t" style="font-size:12.5px" >Kappa</text>
<rect x="357.3" y="1063.8" width="5" height="5" fill="#5079C8"/>
<text x="364.9" y="1068.8" class="l" style="font-size:10.15px" >OCT-AI</text>
<rect x="408.4" y="1063.8" width="5" height="5" fill="#E57C38"/>
<text x="416" y="1068.8" class="l" style="font-size:10.15px" >Attending Ophthalmologist</text>
<rect x="541.9" y="1063.8" width="5" height="5" fill="#A5A5A5"/>
<text x="549.1" y="1068.8" class="l" style="font-size:10.15px" >Resident Ophthalmologist</text>
<text x="536.7" y="1085.3" class="t" style="font-size:13.8px" >(f)</text>
</svg>
</body></html>
